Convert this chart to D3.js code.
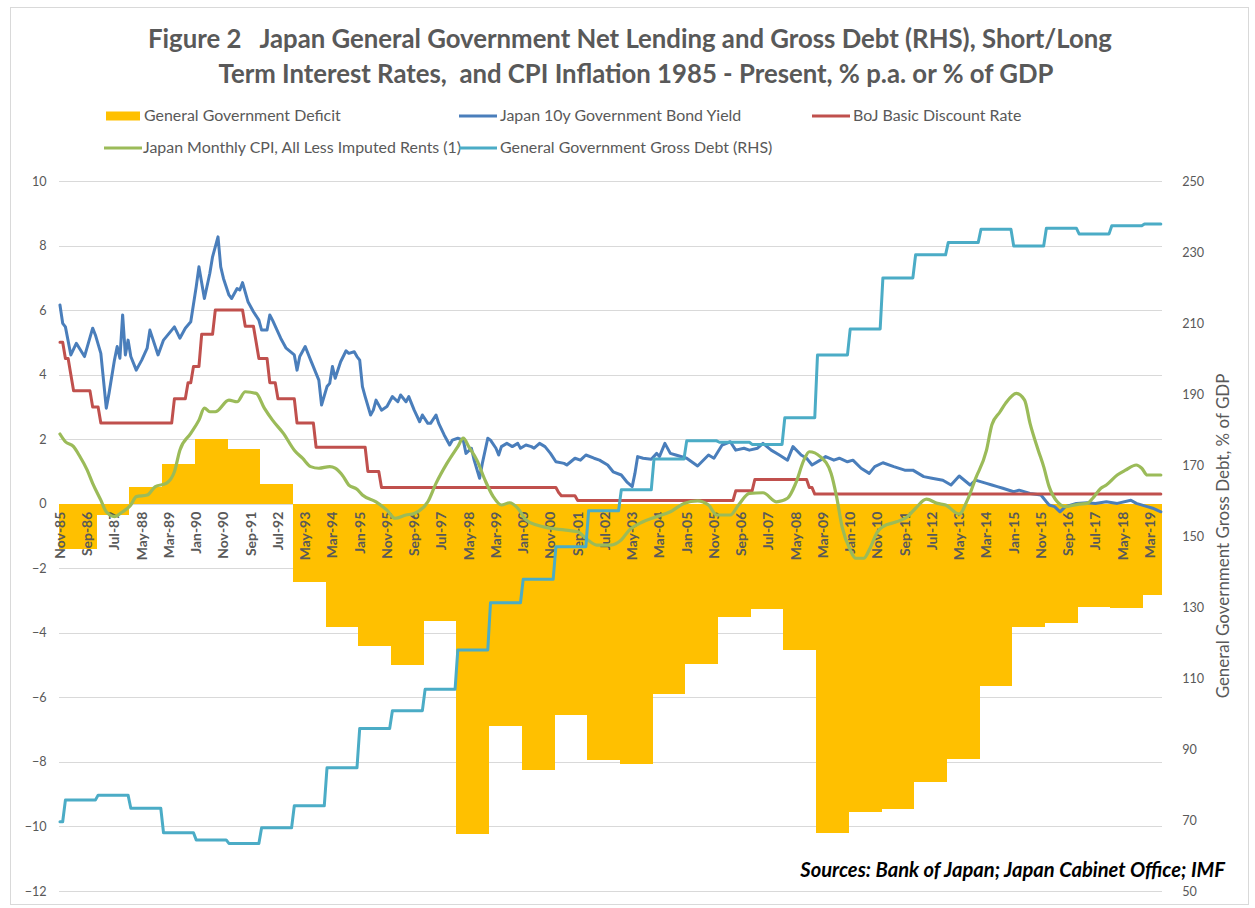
<!DOCTYPE html>
<html><head><meta charset="utf-8">
<script src="https://cdn.jsdelivr.net/npm/d3@7"></script>
<style>body{margin:0;background:#fff}svg{display:block}text{white-space:pre}</style>
</head><body>
<svg id="chart" width="1255" height="908"></svg>
<script>
// ---------------- DATA ----------------
const monthNames = ["Jan","Feb","Mar","Apr","May","Jun","Jul","Aug","Sep","Oct","Nov","Dec"];
const firstMonth = {year:1985, month:10};   // Nov-85
const lastMonth  = {year:2019, month:6};    // Jul-19
const categories = [];
for (let y = firstMonth.year, m = firstMonth.month; y < lastMonth.year || (y === lastMonth.year && m <= lastMonth.month); ) {
  categories.push(monthNames[m] + "-" + String(y % 100).padStart(2, "0"));
  m++; if (m > 11) { m = 0; y++; }
}
const tickLabels = ["Nov-85","Sep-86","Jul-87","May-88","Mar-89","Jan-90","Nov-90","Sep-91","Jul-92","May-93",
  "Mar-94","Jan-95","Nov-95","Sep-96","Jul-97","May-98","Mar-99","Jan-00","Nov-00","Sep-01","Jul-02","May-03",
  "Mar-04","Jan-05","Nov-05","Sep-06","Jul-07","May-08","Mar-09","Jan-10","Nov-10","Sep-11","Jul-12","May-13",
  "Mar-14","Jan-15","Nov-15","Sep-16","Jul-17","May-18","Mar-19"];
const leftTicks = [-12,-10,-8,-6,-4,-2,0,2,4,6,8,10];
const rightTicks = [50,70,90,110,130,150,170,190,210,230,250];

const years = [1985,1986,1987,1988,1989,1990,1991,1992,1993,1994,1995,1996,1997,1998,1999,2000,2001,2002,
  2003,2004,2005,2006,2007,2008,2009,2010,2011,2012,2013,2014,2015,2016,2017,2018,2019];
const deficitValues = [-1.4,-1.4,-0.35,0.53,1.23,2.0,1.7,0.6,-2.42,-3.81,-4.41,-5.01,-3.63,-10.24,-6.89,-8.25,
  -6.55,-7.94,-8.06,-5.91,-4.97,-3.51,-3.25,-4.54,-10.19,-9.56,-9.46,-8.61,-7.91,-5.65,-3.81,-3.69,-3.2,-3.23,-2.84];
const grossDebtValues = [69.5,75.6,77.0,73.3,66.4,64.4,63.4,67.8,74.0,84.7,95.8,100.8,106.8,117.9,131.2,137.8,
  147.0,157.1,163.0,171.7,176.8,176.4,175.8,183.3,201.0,208.3,222.7,229.2,232.7,236.4,231.7,236.7,235.1,237.4,237.9];

const discountRateChanges = [["Nov-85",5.0],["Jan-86",4.5],["Mar-86",4.0],["Apr-86",3.5],["Nov-86",3.0],["Feb-87",2.5],
  ["May-89",3.25],["Oct-89",3.75],["Dec-89",4.25],["Mar-90",5.25],["Aug-90",6.0],["Jul-91",5.5],["Nov-91",5.0],
  ["Dec-91",4.5],["Apr-92",3.75],["Jul-92",3.25],["Feb-93",2.5],["Sep-93",1.75],["Apr-95",1.0],["Sep-95",0.5],
  ["Feb-01",0.35],["Mar-01",0.25],["Sep-01",0.1],["Jul-06",0.4],["Feb-07",0.75],["Oct-08",0.5],["Dec-08",0.3]];

const bondYield = [["Nov-85",6.16],["Dec-85",5.59],["Jan-86",5.48],["Mar-86",4.61],["May-86",4.97],["Aug-86",4.56],
  ["Nov-86",5.44],["Dec-86",5.23],["Feb-87",4.66],["Apr-87",2.96],["May-87",3.42],["Jul-87",4.45],["Aug-87",4.87],
  ["Sep-87",4.51],["Oct-87",5.85],["Nov-87",4.61],["Dec-87",5.07],["Jan-88",4.56],["Mar-88",4.14],["May-88",4.45],
  ["Jul-88",4.82],["Aug-88",5.38],["Nov-88",4.61],["Jan-89",5.07],["May-89",5.48],["Jul-89",5.13],["Sep-89",5.44],
  ["Nov-89",5.64],["Jan-90",6.72],["Feb-90",7.34],["Apr-90",6.36],["Jun-90",7.14],["Jul-90",7.65],["Sep-90",8.27],
  ["Oct-90",7.34],["Nov-90",6.98],["Jan-91",6.47],["Feb-91",6.36],["Apr-91",6.67],["May-91",6.62],["Jun-91",6.85],
  ["Aug-91",6.26],["Oct-91",5.95],["Dec-91",5.69],["Jan-92",5.38],["Mar-92",5.38],["Apr-92",5.85],["May-92",5.69],
  ["Aug-92",5.13],["Oct-92",4.82],["Jan-93",4.61],["Feb-93",4.14],["Mar-93",4.56],["May-93",4.87],["Jul-93",4.45],
  ["Oct-93",3.83],["Nov-93",3.06],["Jan-94",3.63],["Feb-94",3.73],["Mar-94",4.25],["Apr-94",3.89],["Jun-94",4.40],
  ["Aug-94",4.74],["Sep-94",4.66],["Nov-94",4.71],["Dec-94",4.56],["Jan-95",4.45],["Feb-95",3.63],["Mar-95",3.32],
  ["May-95",2.75],["Jun-95",2.90],["Jul-95",3.21],["Sep-95",2.90],["Nov-95",3.01],["Jan-96",3.32],["Mar-96",3.16],
  ["Apr-96",3.37],["Jun-96",3.16],["Jul-96",3.32],["Sep-96",2.90],["Nov-96",2.54],["Dec-96",2.75],["Feb-97",2.49],
  ["Mar-97",2.49],["May-97",2.75],["Jun-97",2.49],["Aug-97",2.13],["Oct-97",1.82],["Nov-97",1.97],["Jan-98",2.03],
  ["Mar-98",1.97],["Apr-98",1.56],["Jun-98",1.72],["Jul-98",1.35],["Sep-98",0.79],["Oct-98",1.25],["Dec-98",2.03],
  ["Jan-99",1.97],["Mar-99",1.72],["Apr-99",1.51],["May-99",1.77],["Jul-99",1.87],["Sep-99",1.77],["Nov-99",1.87],
  ["Dec-99",1.72],["Feb-00",1.82],["Apr-00",1.77],["May-00",1.72],["Jul-00",1.87],["Sep-00",1.77],["Nov-00",1.56],
  ["Jan-01",1.30],["Apr-01",1.25],["May-01",1.20],["Aug-01",1.41],["Oct-01",1.35],["Dec-01",1.51],["Mar-02",1.41],
  ["May-02",1.35],["Aug-02",1.20],["Oct-02",0.99],["Jan-03",0.89],["Mar-03",0.68],["May-03",0.53],["Jun-03",0.94],
  ["Jul-03",1.46],["Sep-03",1.41],["Dec-03",1.38],["Feb-04",1.56],["Mar-04",1.46],["May-04",1.87],["Jul-04",1.56],
  ["Sep-04",1.51],["Jan-05",1.41],["May-05",1.17],["Sep-05",1.51],["Nov-05",1.41],["Feb-06",1.82],["May-06",1.92],
  ["Jul-06",1.66],["Oct-06",1.72],["Dec-06",1.66],["Mar-07",1.72],["May-07",1.87],["Aug-07",1.66],["Nov-07",1.51],
  ["Feb-08",1.35],["Apr-08",1.77],["Jul-08",1.51],["Sep-08",1.41],["Nov-08",1.20],["Feb-09",1.35],["Apr-09",1.46],
  ["Jul-09",1.35],["Sep-09",1.41],["Dec-09",1.30],["Feb-10",1.35],["May-10",1.10],["Aug-10",0.94],["Oct-10",1.15],
  ["Jan-11",1.27],["May-11",1.15],["Sep-11",1.04],["Dec-11",1.04],["Apr-12",0.84],["Jul-12",0.79],["Nov-12",0.73],
  ["Feb-13",0.58],["May-13",0.86],["Sep-13",0.58],["Nov-13",0.73],["Mar-14",0.63],["May-14",0.58],["Jul-14",0.53],
  ["Sep-14",0.48],["Jan-15",0.37],["Mar-15",0.42],["Jul-15",0.32],["Nov-15",0.27],["Jan-16",0.06],["Feb-16",-0.04],
  ["Apr-16",-0.09],["Jun-16",-0.25],["Aug-16",-0.09],["Dec-16",0.01],["Apr-17",0.03],["Jul-17",0.01],["Nov-17",0.06],
  ["Mar-18",0.01],["Aug-18",0.11],["Oct-18",0.01],["Feb-19",-0.09],["Apr-19",-0.14],["Jul-19",-0.25]];

const cpiInflation = [["Nov-85",2.16],["Jan-86",1.92],["Apr-86",1.77],["Jun-86",1.51],["Sep-86",1.04],["Nov-86",0.63],
  ["Feb-87",0.11],["Apr-87",-0.25],["Jul-87",-0.40],["Oct-87",-0.25],["Jan-88",-0.04],["Mar-88",0.22],["Jul-88",0.27],
  ["Oct-88",0.53],["Feb-89",0.63],["May-89",0.99],["Jul-89",1.66],["Nov-89",2.18],["Feb-90",2.59],["Apr-90",2.96],
  ["Jun-90",2.85],["Aug-90",2.85],["Jan-91",3.21],["Apr-91",3.16],["Jul-91",3.47],["Nov-91",3.42],["Feb-92",2.96],
  ["May-92",2.59],["Sep-92",2.18],["Jan-93",1.66],["Apr-93",1.41],["Jul-93",1.15],["Oct-93",1.10],["Feb-94",1.15],
  ["Apr-94",1.10],["Jul-94",0.84],["Sep-94",0.58],["Dec-94",0.45],["Feb-95",0.27],["Jul-95",0.06],["Nov-95",-0.20],
  ["Feb-96",-0.45],["Jun-96",-0.35],["Sep-96",-0.30],["Feb-97",0.06],["May-97",0.63],["Sep-97",1.25],["Jan-98",1.77],
  ["Mar-98",2.03],["May-98",1.77],["Aug-98",1.35],["Nov-98",0.73],["Feb-99",0.22],["May-99",-0.04],["Aug-99",0.03],
  ["Nov-99",-0.14],["Feb-00",-0.50],["Jun-00",-0.66],["Nov-00",-0.76],["Apr-01",-0.81],["Sep-01",-0.87],["Dec-01",-1.07],
  ["Apr-02",-1.28],["Sep-02",-1.28],["Jan-03",-1.12],["Apr-03",-0.81],["Sep-03",-0.56],["Feb-04",-0.40],["Jul-04",-0.25],
  ["Dec-04",0.01],["May-05",0.09],["Sep-05",-0.04],["Dec-05",-0.35],["May-06",-0.35],["Aug-06",-0.04],["Dec-06",0.32],
  ["May-07",0.34],["Oct-07",0.06],["Feb-08",0.17],["May-08",0.63],["Aug-08",1.35],["Oct-08",1.61],["Feb-09",1.46],
  ["Jun-09",0.94],["Aug-09",0.22],["Oct-09",-0.71],["Jan-10",-1.43],["Mar-10",-1.69],["Jun-10",-1.69],["Aug-10",-1.43],
  ["Nov-10",-0.87],["Jan-11",-0.71],["Jun-11",-0.56],["Oct-11",-0.40],["Jan-12",-0.14],["May-12",0.14],["Sep-12",0.01],
  ["Dec-12",-0.04],["May-13",-0.32],["Aug-13",0.11],["Nov-13",0.78],["Mar-14",1.65],["May-14",2.45],["Aug-14",2.85],
  ["Oct-14",3.11],["Feb-15",3.42],["May-15",3.21],["Jul-15",2.49],["Oct-15",1.66],["Dec-15",1.15],["Feb-16",0.53],
  ["May-16",0.06],["Aug-16",-0.09],["Jan-17",-0.01],["Apr-17",0.01],["Jun-17",0.17],["Sep-17",0.48],["Nov-17",0.58],
  ["Mar-18",0.89],["Jun-18",1.04],["Oct-18",1.20],["Dec-18",1.10],["Feb-19",0.89],["Jul-19",0.89]];

const legendLabels = ["General Government Deficit","Japan 10y Government Bond Yield","BoJ Basic Discount Rate",
  "Japan Monthly CPI, All Less Imputed Rents (1)","General Government Gross Debt (RHS)"];
const titleLines = ["Figure 2   Japan General Government Net Lending and Gross Debt (RHS), Short/Long",
  "Term Interest Rates,  and CPI Inflation 1985 - Present, % p.a. or % of GDP"];
const rightAxisTitle = "General Government Gross Debt, % of GDP";
const sourceNote = "Sources: Bank of Japan; Japan Cabinet Office; IMF";

// ---------------- STYLE / LAYOUT ----------------
const FONT = "Lato, 'Liberation Sans', sans-serif";
const C = {bar:"#FFC000", yield:"#4A7EBB", rate:"#C0504D", cpi:"#9BBB59", debt:"#4BACC6",
  grid:"#D9D9D9", text:"#595959"};
const plot = {left:58.6, right:1162.2, top:181, bottom:891};
const svg = d3.select("#chart");

function fitWidth(sel, target){
  const n = sel.node(); const fs = parseFloat(sel.attr("font-size"));
  const w = n.getComputedTextLength(); sel.attr("font-size", (fs*target/w).toFixed(2));
}

const x = d3.scaleBand().domain(categories).range([plot.left, plot.right]).padding(0);
const cx = m => x(m) + x.bandwidth()/2;
const yL = d3.scaleLinear().domain([-12,10]).range([plot.bottom, plot.top]);
const yR = d3.scaleLinear().domain([50,250]).range([plot.bottom, plot.top]);
const yearOf = m => 2000 + (+m.slice(4) < 50 ? +m.slice(4) : +m.slice(4) - 100);

// chart border
svg.append("rect").attr("x",10.5).attr("y",7.5).attr("width",1238).attr("height",897)
  .attr("fill","none").attr("stroke",C.grid);

// gridlines
const grid = svg.append("g").attr("transform",`translate(${plot.left},0)`)
  .call(d3.axisLeft(yL).tickValues(leftTicks).tickSize(-(plot.right-plot.left)).tickFormat(""));
grid.select(".domain").remove();
grid.selectAll("line").attr("stroke",C.grid).attr("stroke-width",1).attr("shape-rendering","crispEdges");

// bars (one per year, spanning its months)
const barData = years.map((yr,i)=>{
  const ms = categories.filter(m=>yearOf(m)===yr);
  return {yr, v:deficitValues[i], first:ms[0], last:ms[ms.length-1]};
});
svg.append("g").selectAll("rect").data(barData).join("rect")
  .attr("x",d=>x(d.first)).attr("width",d=>x(d.last)+x.bandwidth()-x(d.first))
  .attr("y",d=>yL(Math.max(0,d.v))).attr("height",d=>Math.abs(yL(d.v)-yL(0)))
  .attr("fill",C.bar).attr("shape-rendering","crispEdges");

// left axis labels
const la = svg.append("g").attr("transform",`translate(${plot.left},0)`)
  .call(d3.axisLeft(yL).tickValues(leftTicks).tickSize(0).tickPadding(12).tickFormat(d3.format("d")));
la.select(".domain").remove();
la.selectAll("text").attr("font-family",FONT).attr("font-size",15).attr("fill",C.text);

// right axis labels
const ra = svg.append("g").attr("transform",`translate(${plot.right},0)`)
  .call(d3.axisRight(yR).tickValues(rightTicks).tickSize(0).tickPadding(20).tickFormat(d3.format("d")));
ra.select(".domain").remove();
ra.selectAll("text").attr("font-family",FONT).attr("font-size",15).attr("fill",C.text);
fitWidth(ra.selectAll("text").filter(d=>d===250), 22);
const rfs = ra.selectAll("text").filter(d=>d===250).attr("font-size");
ra.selectAll("text").attr("font-size",rfs); la.selectAll("text").attr("font-size",rfs);

// x axis labels at 0
const xa = svg.append("g").attr("transform",`translate(0,${yL(0)})`)
  .call(d3.axisBottom(x).tickValues(tickLabels).tickSize(0));
xa.select(".domain").remove();
xa.selectAll("text").attr("transform","rotate(-90)").attr("text-anchor","end")
  .attr("x",-8).attr("y",0).attr("dy","0.36em")
  .attr("font-family",FONT).attr("font-size",14).attr("font-weight","bold").attr("fill",C.text);
fitWidth(xa.selectAll("text").filter(d=>d==="Nov-85"), 47);
const xfs = xa.selectAll("text").filter(d=>d==="Nov-85").attr("font-size");
xa.selectAll("text").attr("font-size",xfs);

// lines
const lineL = d3.line().x(d=>cx(d[0])).y(d=>yL(d[1]));
const lineR = d3.line().x(d=>cx(d[0])).y(d=>yR(d[1]));
const rateMonthly = categories.map(m=>{
  const i = categories.indexOf(m); let v = null;
  discountRateChanges.forEach(c=>{ if (categories.indexOf(c[0])<=i) v=c[1]; });
  return [m,v];
});
const debtMonthly = categories.map(m=>[m, grossDebtValues[years.indexOf(yearOf(m))]]);

const lg = svg.append("g").attr("fill","none").attr("stroke-linejoin","round").attr("stroke-linecap","round");
lg.append("path").datum(bondYield).attr("d",lineL).attr("stroke",C.yield).attr("stroke-width",3);
lg.append("path").datum(rateMonthly).attr("d",lineL).attr("stroke",C.rate).attr("stroke-width",3);
lg.append("path").datum(cpiInflation).attr("d",lineL.curve(d3.curveMonotoneX)).attr("stroke",C.cpi).attr("stroke-width",3.2);
lg.append("path").datum(debtMonthly).attr("d",lineR).attr("stroke",C.debt).attr("stroke-width",3);

// title
const tl = svg.append("g").attr("font-family",FONT).attr("font-weight","bold").attr("fill",C.text).attr("text-anchor","middle");
const t1 = tl.append("text").attr("x",630).attr("y",48).attr("font-size",24).text(titleLines[0]);
const t2 = tl.append("text").attr("x",636).attr("y",83).attr("font-size",24).text(titleLines[1]);
fitWidth(t1,964);
t2.attr("font-size",t1.attr("font-size"));

// legend
const legendItems = [
  {label:legendLabels[0], type:"rect", color:C.bar, kx:106, tx:144, y:116, w:192},
  {label:legendLabels[1], type:"line", color:C.yield, kx:459, tx:500, y:116, w:234},
  {label:legendLabels[2], type:"line", color:C.rate, kx:812, tx:853, y:116, w:164},
  {label:legendLabels[3], type:"line", color:C.cpi, kx:104, tx:143, y:148, w:342},
  {label:legendLabels[4], type:"line", color:C.debt, kx:459, tx:500, y:148, w:265}];
const leg = svg.append("g");
legendItems.forEach(it=>{
  if (it.type==="rect") leg.append("rect").attr("x",it.kx).attr("y",it.y-4.5).attr("width",34).attr("height",9).attr("fill",it.color);
  else leg.append("line").attr("x1",it.kx).attr("x2",it.kx+38).attr("y1",it.y).attr("y2",it.y)
    .attr("stroke",it.color).attr("stroke-width",3);
  it.t = leg.append("text").attr("x",it.tx).attr("y",it.y+4.5).attr("font-family",FONT).attr("font-size",14)
    .attr("fill",C.text).text(it.label);
});
let sumM=0,sumT=0; legendItems.forEach(it=>{sumM+=it.t.node().getComputedTextLength(); sumT+=it.w;});
legendItems.forEach(it=>it.t.attr("font-size",(14*sumT/sumM).toFixed(2)));

// right axis title
const rt = svg.append("text").attr("transform",`translate(1229,${(plot.top+plot.bottom)/2}) rotate(-90)`)
  .attr("text-anchor","middle").attr("font-family",FONT).attr("font-size",15).attr("fill",C.text).text(rightAxisTitle);
fitWidth(rt,325);

// source note
const sn = svg.append("text").attr("x",1225).attr("y",877).attr("text-anchor","end").attr("font-family",FONT)
  .attr("font-size",17).attr("font-weight","bold").attr("font-style","italic").attr("fill","#000").text(sourceNote);
fitWidth(sn,425);
</script>
</body></html>
